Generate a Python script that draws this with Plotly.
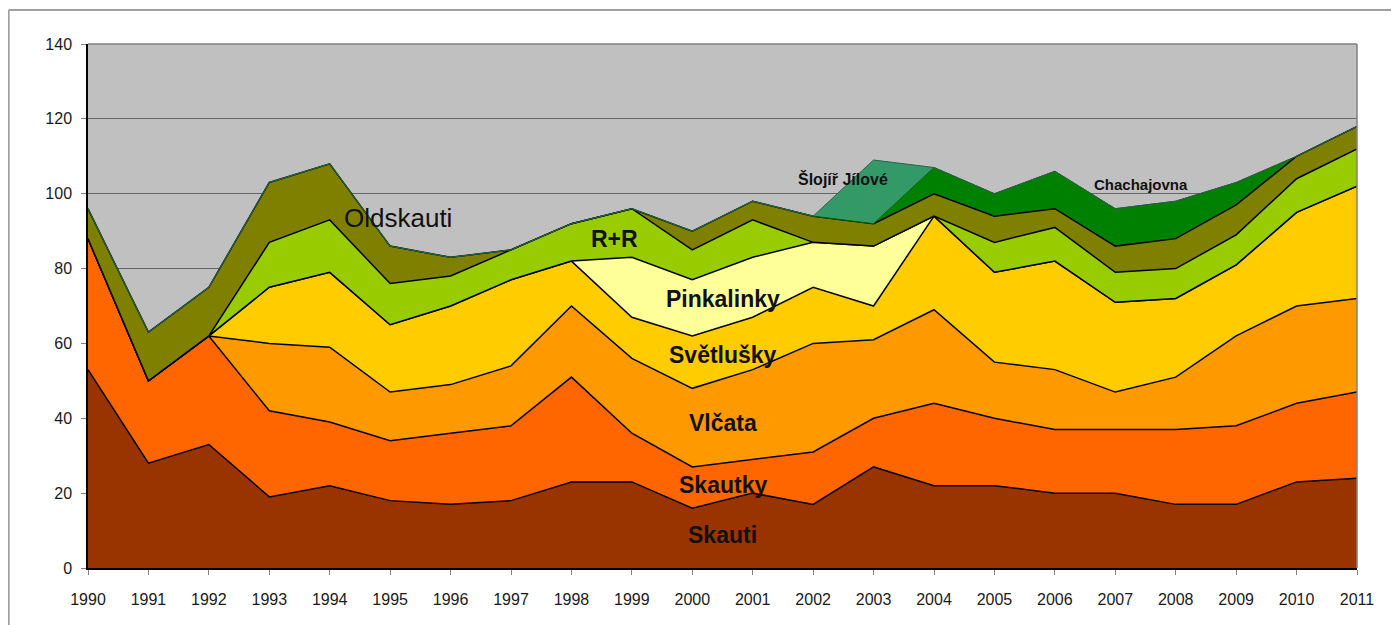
import plotly.graph_objects as go

years = list(range(1990, 2012))

skauti      = [53, 28, 33, 19, 22, 18, 17, 18, 23, 23, 16, 20, 17, 27, 22, 22, 20, 20, 17, 17, 23, 24]
skautky     = [35, 22, 29, 23, 17, 16, 19, 20, 28, 13, 11, 9, 14, 13, 22, 18, 17, 17, 20, 21, 21, 23]
vlcata      = [0, 0, 0, 18, 20, 13, 13, 16, 19, 20, 21, 24, 29, 21, 25, 15, 16, 10, 14, 24, 26, 25]
svetlusky   = [0, 0, 0, 15, 20, 18, 21, 23, 12, 11, 14, 14, 15, 9, 25, 24, 29, 24, 21, 19, 25, 30]
pinkalinky  = [0, 0, 0, 0, 0, 0, 0, 0, 0, 16, 15, 16, 12, 16, 0, 0, 0, 0, 0, 0, 0, 0]
rr          = [0, 0, 0, 12, 14, 11, 8, 8, 10, 13, 8, 10, 0, 0, 0, 8, 9, 8, 8, 8, 9, 10]
oldskauti   = [8, 13, 13, 16, 15, 10, 5, 0, 0, 0, 5, 5, 7, 6, 6, 7, 5, 7, 8, 8, 6, 6]
chachajovna = [0, 0, 0, 0, 0, 0, 0, 0, 0, 0, 0, 0, 0, 0, 7, 6, 10, 10, 10, 6, 0, 0]
slojir      = [0, 0, 0, 0, 0, 0, 0, 0, 0, 0, 0, 0, 0, 17, 0, 0, 0, 0, 0, 0, 0, 0]

series = [
    ("Skauti", skauti, "#993300", "#000000", 1.5),
    ("Skautky", skautky, "#FF6600", "#000000", 1.5),
    ("Vlčata", vlcata, "#FF9900", "#000000", 1.5),
    ("Světlušky", svetlusky, "#FFCC00", "#000000", 1.5),
    ("Pinkalinky", pinkalinky, "#FFFF99", "#000000", 1.5),
    ("R+R", rr, "#99CC00", "#000000", 1.5),
    ("Oldskauti", oldskauti, "#808000", "#000000", 1.5),
    ("Chachajovna", chachajovna, "#008000", "#006400", 1),
    ("Šlojíř Jílové", slojir, "#339966", "#2F5F4F", 1),
]

label_font = "Liberation Sans, Arial, sans-serif"

fig = go.Figure()
for name, vals, fill, line, lw in series:
    fig.add_trace(go.Scatter(
        x=years, y=vals, name=name, mode="lines",
        stackgroup="one", fillcolor=fill,
        line=dict(color=line, width=lw),
    ))

labels = [
    ("Oldskauti", 1995.13, 93.6, 26, False),
    ("R+R", 1998.71, 88.0, 23, True),
    ("Šlojíř Jílové", 2002.49, 104.0, 16, True),
    ("Pinkalinky", 2000.5, 72.0, 23, True),
    ("Světlušky", 2000.5, 57.0, 23, True),
    ("Vlčata", 2000.5, 38.8, 23, True),
    ("Skautky", 2000.5, 22.3, 23, True),
    ("Skauti", 2000.5, 8.9, 23, True),
    ("Chachajovna", 2007.43, 102.4, 15, True),
]
for txt, lx, ly, size, bold in labels:
    fig.add_annotation(
        x=lx, y=ly, text=f"<b>{txt}</b>" if bold else txt, showarrow=False,
        font=dict(family=label_font, size=size, color="#111111"),
        xanchor="center", yanchor="middle",
    )

# plot area top/right border and outer chart frame
fig.add_shape(type="line", xref="paper", yref="paper", x0=0, x1=1, y0=1, y1=1,
              line=dict(color="#808080", width=1.5))
fig.add_shape(type="line", xref="paper", yref="paper", x0=1, x1=1, y0=0, y1=1,
              line=dict(color="#808080", width=1.5))
fig.add_shape(type="line", xref="paper", yref="paper", x0=-0.0625, x1=1.04, y0=1.0649, y1=1.0649,
              line=dict(color="#A0A0A0", width=2))
fig.add_shape(type="line", xref="paper", yref="paper", x0=-0.0625, x1=-0.0625, y0=1.0649, y1=-0.12,
              line=dict(color="#A0A0A0", width=2))

fig.update_layout(
    width=1391, height=617,
    margin=dict(l=80, r=42, t=36, b=57, autoexpand=False),
    paper_bgcolor="white", plot_bgcolor="#C0C0C0",
    showlegend=False,
    font=dict(family=label_font, size=16, color="#1a1a1a"),
    xaxis=dict(
        range=[1990, 2011], tickmode="array", tickvals=years, ticktext=[str(y) for y in years],
        showgrid=False, zeroline=False, showline=True, linecolor="#000000", linewidth=1.5,
        ticks="outside", ticklen=5, tickcolor="#808080", ticklabelstandoff=11,
        tickfont=dict(size=16),
    ),
    yaxis=dict(
        range=[0, 140], tickmode="array", tickvals=list(range(0, 141, 20)),
        showgrid=True, gridcolor="#666666", gridwidth=1, zeroline=False,
        showline=True, linecolor="#000000", linewidth=1.5,
        ticks="outside", ticklen=5, tickcolor="#808080", ticklabelstandoff=6,
        tickfont=dict(size=16),
    ),
)

fig.write_html("out.html")
